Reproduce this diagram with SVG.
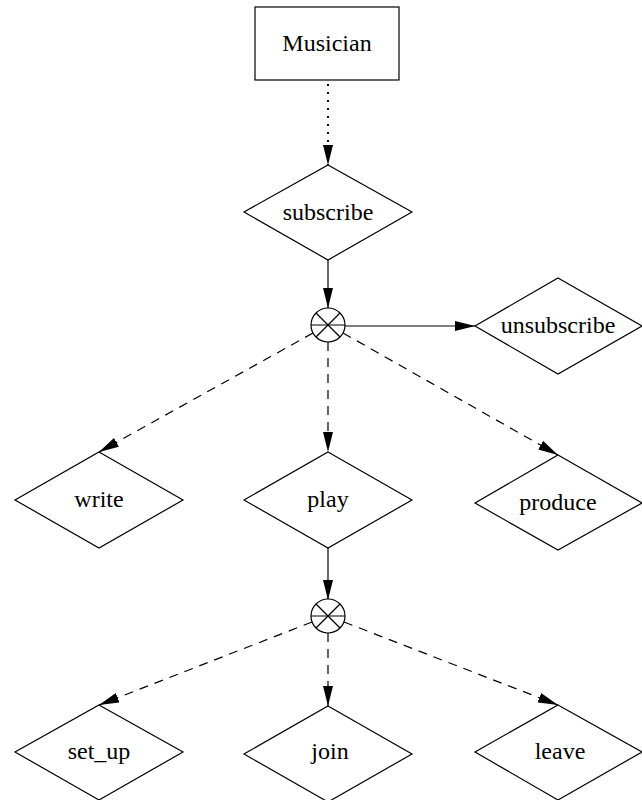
<svg xmlns="http://www.w3.org/2000/svg" width="642" height="800" viewBox="0 0 642 800">
  <style>
    .shape { fill: #ffffff; stroke: #000000; stroke-width: 1.2; }
    .label { font-family: "Liberation Serif", "Times New Roman", serif; font-size: 24px; fill: #000000; text-anchor: middle; }
    .edge { fill: none; stroke: #000000; stroke-width: 1.2; marker-end: url(#arrow); }
    .dotted { stroke-width: 2; stroke-dasharray: 2 6; }
    .dashed { stroke-dasharray: 9 7; }
    .xmark { stroke: #000000; stroke-width: 1.2; fill: none; }
  </style>
  <defs>
    <marker id="arrow" markerUnits="userSpaceOnUse" markerWidth="20" markerHeight="10" refX="20" refY="5" orient="auto">
      <path d="M0,0 L20,5 L0,10 z" fill="#000000"/>
    </marker>
  </defs>
  <rect width="642" height="800" fill="#ffffff"/>

  <!-- connectors -->
  <g id="edges">
    <line class="edge dotted" x1="328" y1="84" x2="328" y2="165"/>
    <line class="edge" x1="328" y1="260" x2="328" y2="308"/>
    <line class="edge" x1="345" y1="326" x2="475" y2="326"/>
    <line class="edge dashed" x1="313" y1="333" x2="99" y2="452"/>
    <line class="edge dashed" x1="328" y1="342" x2="328" y2="452"/>
    <line class="edge dashed" x1="343" y1="333" x2="558" y2="455"/>
    <line class="edge" x1="328" y1="548" x2="328" y2="600"/>
    <line class="edge dashed" x1="312" y1="622" x2="99" y2="705"/>
    <line class="edge dashed" x1="328" y1="633" x2="328" y2="706"/>
    <line class="edge dashed" x1="344" y1="622" x2="558" y2="705"/>
  </g>

  <!-- nodes -->
  <g id="musician">
    <rect class="shape" x="255" y="7" width="144" height="73"/>
    <text class="label" x="327" y="51">Musician</text>
  </g>
  <g id="subscribe">
    <polygon class="shape" points="328,165 412,212 328,260 244,212"/>
    <text class="label" x="328" y="220">subscribe</text>
  </g>
  <g id="xor1">
    <circle class="shape" cx="328" cy="325" r="17"/>
    <line class="xmark" x1="311" y1="325" x2="345" y2="325"/>
    <line class="xmark" x1="316" y1="313" x2="340" y2="337"/>
    <line class="xmark" x1="340" y1="313" x2="316" y2="337"/>
  </g>
  <g id="unsubscribe">
    <polygon class="shape" points="558,278 642,326 558,374 475,326"/>
    <text class="label" x="558" y="333">unsubscribe</text>
  </g>
  <g id="write">
    <polygon class="shape" points="99,452 183,500 99,548 15,500"/>
    <text class="label" x="99" y="507">write</text>
  </g>
  <g id="play">
    <polygon class="shape" points="328,452 412,500 328,548 244,500"/>
    <text class="label" x="328" y="507">play</text>
  </g>
  <g id="produce">
    <polygon class="shape" points="558,455 642,503 558,550 475,503"/>
    <text class="label" x="558" y="510">produce</text>
  </g>
  <g id="xor2">
    <circle class="shape" cx="328" cy="616" r="17"/>
    <line class="xmark" x1="311" y1="616" x2="345" y2="616"/>
    <line class="xmark" x1="316" y1="604" x2="340" y2="628"/>
    <line class="xmark" x1="340" y1="604" x2="316" y2="628"/>
  </g>
  <g id="set_up">
    <polygon class="shape" points="99,705 183,752 99,800 15,752"/>
    <text class="label" x="99" y="759">set_up</text>
  </g>
  <g id="join">
    <polygon class="shape" points="328,706 412,754 328,802 244,754"/>
    <text class="label" x="330" y="759">join</text>
  </g>
  <g id="leave">
    <polygon class="shape" points="558,705 642,752 558,800 475,752"/>
    <text class="label" x="560" y="759">leave</text>
  </g>
</svg>
